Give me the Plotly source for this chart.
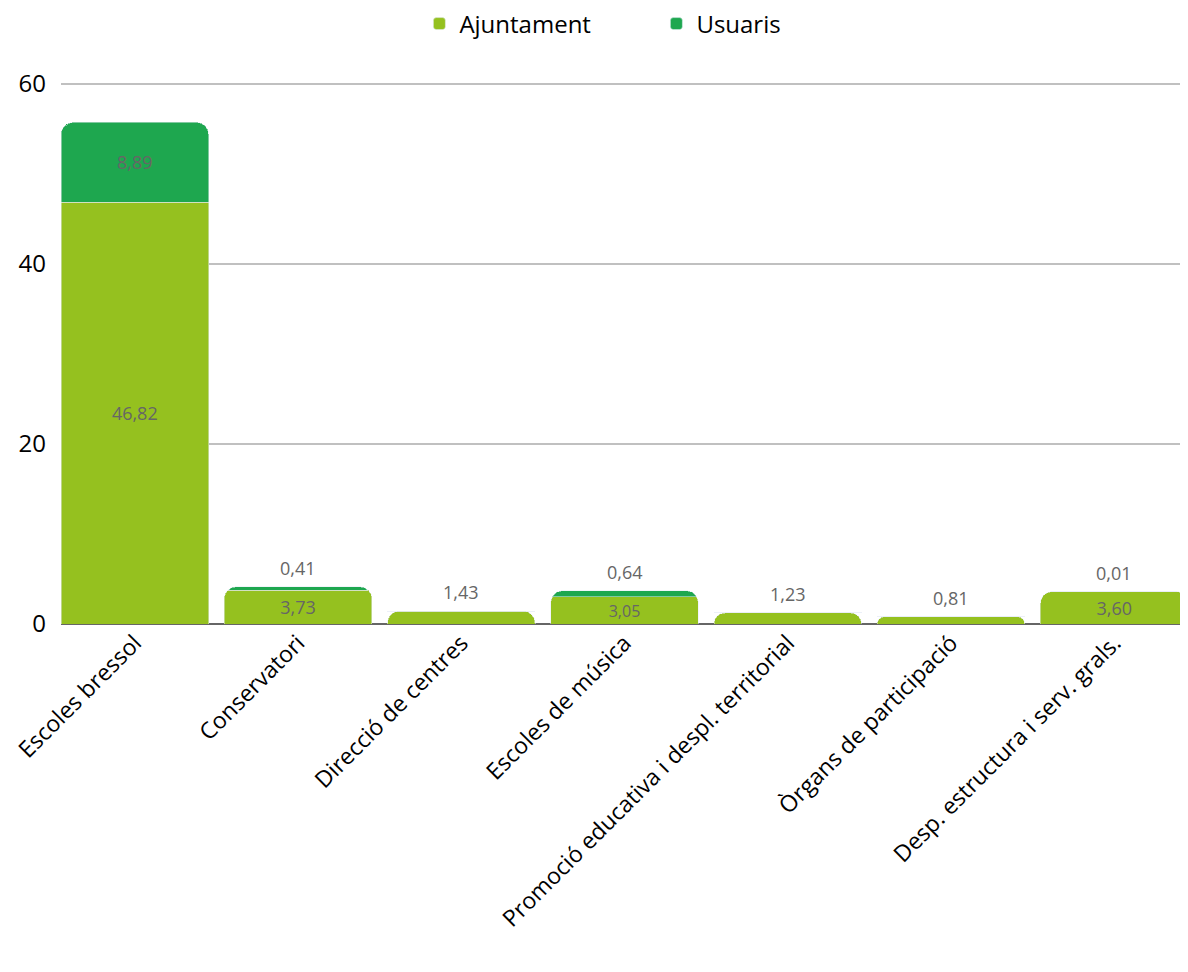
import plotly.graph_objects as go

categories = ["Escoles bressol", "Conservatori", "Direcció de centres", "Escoles de música",
              "Promoció educativa i despl. territorial", "Òrgans de participació",
              "Desp. estructura i serv. grals."]
ajuntament = [46.82, 3.73, 1.43, 3.05, 1.23, 0.81, 3.60]
usuaris = [8.89, 0.41, 0.0, 0.64, 0.0, 0.0, 0.01]
y_ticks = [0, 20, 40, 60]

C_AJ = "#95C11F"
C_US = "#1EA74F"
LABEL = "#666666"
FONT = "Open Sans, sans-serif"
LSIZE = 18

def fmt(v):
    return f"{v:.2f}".replace(".", ",")

aj_text = [fmt(v) if v >= 2 else "" for v in ajuntament]
us_text = [fmt(v) if v >= 2 else "" for v in usuaris]

fig = go.Figure()
fig.add_bar(name="Ajuntament", x=categories, y=ajuntament, marker_color=C_AJ,
            text=aj_text, textposition="inside", insidetextanchor="middle",
            textfont=dict(color=LABEL, size=LSIZE, family=FONT), textangle=0)
fig.add_bar(name="Usuaris", x=categories, y=usuaris, marker_color=C_US,
            text=us_text, textposition="inside", insidetextanchor="middle",
            textfont=dict(color=LABEL, size=LSIZE, family=FONT), textangle=0)

for c, a, u in zip(categories, ajuntament, usuaris):
    if a < 2:
        fig.add_annotation(x=c, y=a + u, text=fmt(a), showarrow=False, yanchor="bottom",
                           yshift=5, font=dict(color=LABEL, size=LSIZE, family=FONT))
    if 0 < u < 2:
        fig.add_annotation(x=c, y=a + u, text=fmt(u), showarrow=False, yanchor="bottom",
                           yshift=5, font=dict(color=LABEL, size=LSIZE, family=FONT))

fig.update_layout(
    width=1188, height=972,
    barmode="stack", bargap=0.096, barcornerradius=12,
    paper_bgcolor="white", plot_bgcolor="white",
    margin=dict(l=53, r=8, t=74, b=356, autoexpand=False),
    font=dict(family=FONT, color="#000000"),
    showlegend=True,
    legend=dict(orientation="h", x=0.318, xanchor="left", y=1.107, yanchor="middle",
                font=dict(size=24, family=FONT), itemwidth=30,
                entrywidth=192, traceorder="normal", bgcolor="rgba(0,0,0,0)"),
    xaxis=dict(range=[-0.452, 6.452], tickangle=-45,
               tickfont=dict(size=23, family=FONT, color="#000"),
               showgrid=False, showline=False, ticks=""),
    yaxis=dict(range=[0, 60.2], tickvals=y_ticks,
               tickfont=dict(size=24, family=FONT, color="#000"),
               showgrid=True, gridcolor="#C0C0C0", gridwidth=2,
               zeroline=True, zerolinecolor="#666666", zerolinewidth=2,
               ticks="", ticklabelstandoff=14),
)

fig.write_html("out.html")
